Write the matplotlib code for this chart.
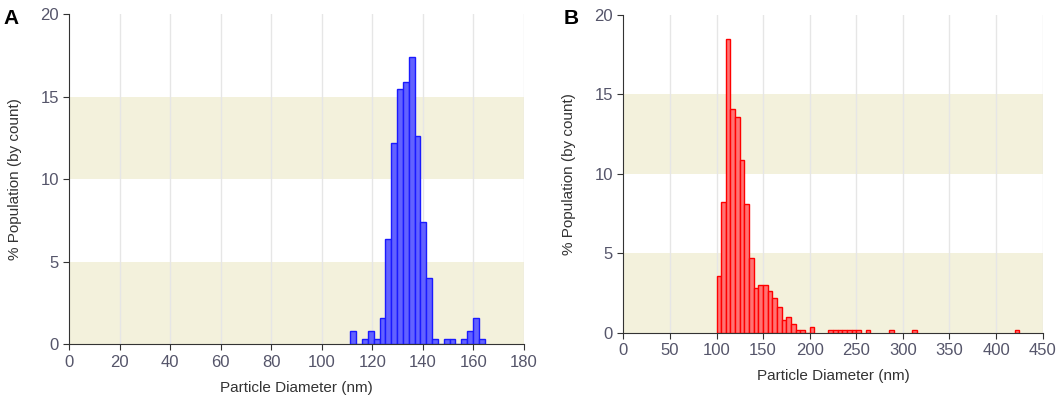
import matplotlib
matplotlib.use("Agg")
import matplotlib.pyplot as plt

plt.rcParams['font.family'] = ['Liberation Sans', 'DejaVu Sans']

# panel A: histogram bins (nm) and % population
a_start = 111.3
a_width = 2.31
a_vals = [0.8, 0, 0.35, 0.8, 0.35, 1.6, 6.4, 12.2, 15.5, 15.9, 17.4, 12.6,
          7.4, 4.0, 0.35, 0, 0.35, 0.35, 0, 0.35, 0.8, 1.6, 0.35]

# panel B: 5 nm bins
b_edges = [100, 105, 110, 115, 120, 125, 130, 135, 140, 145, 150, 155, 160,
           165, 170, 175, 180, 185, 190, 195, 200,
           220, 225, 230, 235, 240, 245, 250, 260, 285, 310, 420]
b_vals = [3.6, 8.25, 18.5, 14.1, 13.6, 10.9, 8.1, 4.7, 2.8, 3.0, 3.0, 2.6, 2.2,
          1.6, 0.8, 1.0, 0.55, 0.2, 0.2, 0, 0.35,
          0.18, 0.18, 0.18, 0.18, 0.18, 0.18, 0.18, 0.18, 0.18, 0.18, 0.18]
b_width = 5

a_ticks = list(range(0, 181, 20))
b_ticks = list(range(0, 451, 50))
y_ticks = [0, 5, 10, 15, 20]

band = '#f3f1dc'
tick_col = '#55556a'


def estilo(ax, xticks):
    ax.set_ylim(0, 20)
    ax.set_xlim(xticks[0], xticks[-1])
    ax.axhspan(0, 5, color=band, zorder=0, lw=0)
    ax.axhspan(10, 15, color=band, zorder=0, lw=0)
    for x in xticks[1:]:
        ax.axvline(x, color='#e6e6e6', lw=1, zorder=0.5)
    ax.set_xticks(xticks)
    ax.set_yticks(y_ticks)
    ax.spines['top'].set_visible(False)
    ax.spines['right'].set_visible(False)
    ax.spines['left'].set_color('#333333')
    ax.spines['bottom'].set_color('#333333')
    ax.tick_params(colors='#333333', labelcolor=tick_col, labelsize=12,
                   length=4, direction='out')
    ax.set_xlabel('Particle Diameter (nm)', fontsize=11, color='#333333', labelpad=8)
    ax.set_ylabel('% Population (by count)', fontsize=11, color='#333333', labelpad=13)


fig = plt.figure(figsize=(10.59, 4.03), dpi=100)

ax1 = fig.add_axes([0.0654, 0.1457, 0.4294, 0.8188])
estilo(ax1, a_ticks)
a_edges = [a_start + i * a_width for i in range(len(a_vals))]
ax1.bar(a_edges, a_vals, width=a_width, align='edge', color='#6262ff',
        edgecolor='#1a1aff', linewidth=1, zorder=2)

ax2 = fig.add_axes([0.5886, 0.1744, 0.3960, 0.7884])
estilo(ax2, b_ticks)
ax2.bar(b_edges, b_vals, width=b_width, align='edge', color='#ff7373',
        edgecolor='#ff0000', linewidth=1, zorder=2)

fig.text(0.003, 0.955, 'A', fontsize=15, fontweight='bold', va='center')
fig.text(0.532, 0.955, 'B', fontsize=15, fontweight='bold', va='center')

fig.savefig('out.png', dpi=100)
